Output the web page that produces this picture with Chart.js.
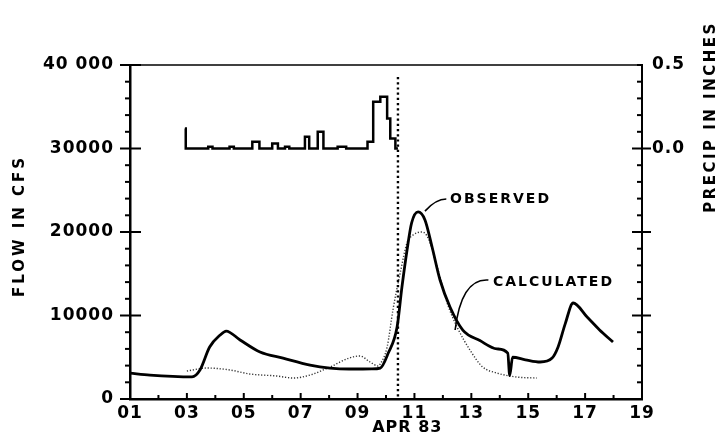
<!DOCTYPE html>
<html lang="en">
<head>
  <meta charset="UTF-8">
  <title>Flow hydrograph - APR 83</title>
  <script src="https://cdn.jsdelivr.net/npm/chart.js"></script>
  <style>
    body { margin: 0; background: #fff; }
    canvas { display: block; }
  </style>
</head>
<body>
  <canvas id="chart" width="720" height="437"></canvas>

  <script>
    // day of month (April 1983) / flow in cfs
    const observedDays = [1.0, 1.7, 2.5, 3.18, 3.46, 3.8, 4.17, 4.38, 4.87, 5.57, 6.38, 7.33, 8.03, 8.7, 9.5, 9.8,
      10.08, 10.39, 10.56, 10.74, 10.9, 11.13, 11.37, 11.62, 11.9, 12.25, 12.7, 13.3, 13.9, 14.28, 14.35, 14.45,
      14.9, 15.42, 15.84, 16.05, 16.3, 16.58, 17.07, 17.5, 17.98];
    const observedFlow = [3100, 2870, 2700, 2640, 3470, 6230, 7660, 8140, 7070, 5630, 4900, 4070, 3710, 3590, 3600, 3700,
      5500, 8620, 13400, 17850, 21080, 22400, 21440, 18200, 14250, 11020, 8260, 7000, 6000, 5500, 2800, 5000,
      4700, 4430, 4900, 6230, 9000, 11500, 9820, 8300, 6830];

    const calculatedDays = [3.0, 3.7, 4.52, 5.2, 6.17, 6.73, 7.33, 8.03, 8.7, 9.08, 9.44, 9.72, 9.8, 10.04, 10.25,
      10.5, 10.74, 10.95, 11.27, 11.48, 11.8, 12.15, 12.5, 12.95, 13.4, 13.9, 14.6, 15.3];
    const calculatedFlow = [3350, 3710, 3470, 3000, 2750, 2510, 2870, 3830, 4900, 5150, 4430, 3950, 4200, 6230, 10800,
      15100, 18700, 19640, 20000, 19280, 15800, 11500, 8620, 5870, 3830, 3110, 2630, 2510];

    // precipitation, inches; each value holds until the next day entry
    const precipDays = [2.93, 2.96, 3.75, 3.9, 4.5, 4.65, 5.3, 5.55, 6.0, 6.2, 6.45, 6.6, 7.15, 7.3, 7.6, 7.8,
      8.3, 8.6, 9.35, 9.55, 9.8, 10.04, 10.15, 10.33, 10.42];
    const precipInches = [0.12, 0, 0.01, 0, 0.01, 0, 0.04, 0, 0.03, 0, 0.01, 0, 0.07, 0, 0.1, 0,
      0.01, 0, 0.04, 0.28, 0.31, 0.18, 0.06, 0, 0];

    const forecastDay = 10.42;

    const dayTicks = [1, 2, 3, 4, 5, 6, 7, 8, 9, 10, 11, 12, 13, 14, 15, 16, 17, 18, 19];
    const flowTicks = [0, 10000, 20000, 30000, 40000];
    const flowTickLabels = ['0', '10000', '20000', '30000', '40 000'];
    const precipTicks = [0, 0.5];

    // curve labels: text start (day, flow) and leader from curve
    const curveLabels = [
      { text: 'OBSERVED', day: 12.25, flow: 23950, from: [11.37, 22500], ctrl: [11.75, 23950], to: [12.12, 23950] },
      { text: 'CALCULATED', day: 13.76, flow: 14000, from: [12.43, 8260], ctrl: [12.65, 14500], to: [13.6, 14250] }
    ];

    const font = 'DejaVu Sans';

    const toPoints = (xs, ys) => xs.map((x, i) => ({ x: x, y: ys[i] }));

    const extras = {
      id: 'extras',
      beforeDraw(chart) {
        chart.ctx.letterSpacing = '1px';
      },
      afterDraw(chart) {
        const ctx = chart.ctx;
        const x = chart.scales.x, y = chart.scales.y, y2 = chart.scales.y2;
        const top = y.getPixelForValue(40000), bottom = y.getPixelForValue(0);
        ctx.save();
        ctx.strokeStyle = '#000';
        ctx.fillStyle = '#000';

        // frame top
        ctx.lineWidth = 1.6;
        ctx.beginPath();
        ctx.moveTo(x.left, top);
        ctx.lineTo(x.right, top);
        ctx.stroke();

        // left ticks: crosses every 10000, small outside every 2000
        ctx.lineWidth = 2;
        for (let v = 0; v <= 40000; v += 2000) {
          const py = y.getPixelForValue(v);
          ctx.beginPath();
          if (v % 10000 === 0) { ctx.moveTo(x.left - 10, py); ctx.lineTo(x.left + 11, py); }
          else { ctx.moveTo(x.left - 5, py); ctx.lineTo(x.left, py); }
          ctx.stroke();
        }
        // right ticks
        for (let v = -1.5; v <= 0.501; v += 0.1) {
          const py = y2.getPixelForValue(v);
          const major = Math.abs(v * 2 - Math.round(v * 2)) < 0.01;
          ctx.beginPath();
          if (major && v < 0.49 && v > -1.49) { ctx.moveTo(x.right - 10, py); ctx.lineTo(x.right + 9, py); }
          else { ctx.moveTo(x.right - 5, py); ctx.lineTo(x.right, py); }
          ctx.stroke();
        }
        // day ticks, pointing up
        dayTicks.forEach(d => {
          const px = x.getPixelForValue(d);
          ctx.beginPath();
          ctx.moveTo(px, bottom);
          ctx.lineTo(px, bottom - (d % 2 ? 6 : 4));
          ctx.stroke();
        });

        // forecast time marker
        const fx = x.getPixelForValue(forecastDay);
        ctx.lineWidth = 2.4;
        ctx.setLineDash([2.2, 3]);
        ctx.beginPath();
        ctx.moveTo(fx, top + 12);
        ctx.lineTo(fx, bottom);
        ctx.stroke();
        ctx.setLineDash([]);

        // curve labels
        ctx.lineWidth = 1.6;
        ctx.font = 'bold 14px "' + font + '"';
        ctx.letterSpacing = '2px';
        ctx.textBaseline = 'middle';
        ctx.textAlign = 'left';
        curveLabels.forEach(l => {
          ctx.beginPath();
          ctx.moveTo(x.getPixelForValue(l.from[0]), y.getPixelForValue(l.from[1]));
          ctx.quadraticCurveTo(x.getPixelForValue(l.ctrl[0]), y.getPixelForValue(l.ctrl[1]),
            x.getPixelForValue(l.to[0]), y.getPixelForValue(l.to[1]));
          ctx.stroke();
          ctx.fillText(l.text, x.getPixelForValue(l.day), y.getPixelForValue(l.flow));
        });

        // axis titles
        ctx.font = 'bold 15px "' + font + '"';
        ctx.letterSpacing = '3px';
        ctx.textAlign = 'center';
        ctx.save();
        ctx.translate(20, 226);
        ctx.rotate(-Math.PI / 2);
        ctx.fillText('FLOW IN CFS', 0, 0);
        ctx.restore();

        ctx.letterSpacing = '2.5px';
        ctx.save();
        ctx.translate(711, 117);
        ctx.rotate(-Math.PI / 2);
        ctx.fillText('PRECIP IN INCHES', 0, 0);
        ctx.restore();

        ctx.font = 'bold 16px "' + font + '"';
        ctx.letterSpacing = '1px';
        ctx.fillText('APR 83', x.getPixelForValue(10.75), 428);
        ctx.restore();
      }
    };

    const tickFont = { family: font, weight: 'bold', size: 17 };

    new Chart(document.getElementById('chart'), {
      type: 'line',
      data: {
        datasets: [
          {
            label: 'OBSERVED',
            data: toPoints(observedDays, observedFlow),
            borderColor: '#000',
            borderWidth: 2.8,
            pointRadius: 0,
            cubicInterpolationMode: 'monotone',
            yAxisID: 'y'
          },
          {
            label: 'CALCULATED',
            data: toPoints(calculatedDays, calculatedFlow),
            borderColor: '#333',
            borderWidth: 1.4,
            borderDash: [1.2, 1.8],
            pointRadius: 0,
            cubicInterpolationMode: 'monotone',
            yAxisID: 'y'
          },
          {
            label: 'PRECIP',
            data: toPoints(precipDays, precipInches),
            borderColor: '#000',
            borderWidth: 2.5,
            pointRadius: 0,
            stepped: true,
            yAxisID: 'y2'
          }
        ]
      },
      options: {
        responsive: false,
        devicePixelRatio: 1,
        animation: false,
        layout: { padding: { top: 65, left: 0, right: 0, bottom: 0 } },
        plugins: { legend: { display: false }, tooltip: { enabled: false } },
        scales: {
          x: {
            type: 'linear',
            min: 1,
            max: 19,
            afterFit: s => { s.height = 38; },
            afterBuildTicks: s => { s.ticks = dayTicks.map(v => ({ value: v })); },
            grid: { display: false, drawTicks: false },
            border: { display: true, color: '#000', width: 2.5 },
            ticks: {
              autoSkip: false,
              maxRotation: 0,
              padding: 4,
              color: '#000',
              font: tickFont,
              callback: v => (v % 2 === 1 ? String(v).padStart(2, '0') : '')
            }
          },
          y: {
            position: 'left',
            min: 0,
            max: 40000,
            afterFit: s => { s.width = 130; },
            afterBuildTicks: s => { s.ticks = flowTicks.map(v => ({ value: v })); },
            grid: { display: false, drawTicks: false },
            border: { display: true, color: '#000', width: 2.5 },
            ticks: {
              padding: 16,
              color: '#000',
              font: tickFont,
              callback: v => flowTickLabels[flowTicks.indexOf(v)]
            }
          },
          y2: {
            position: 'right',
            min: -1.5,
            max: 0.5,
            afterFit: s => { s.width = 78; },
            afterBuildTicks: s => { s.ticks = precipTicks.map(v => ({ value: v })); },
            grid: { display: false, drawTicks: false },
            border: { display: true, color: '#000', width: 2 },
            ticks: {
              padding: 10,
              color: '#000',
              font: tickFont,
              callback: v => v.toFixed(1)
            }
          }
        }
      },
      plugins: [extras]
    });
  </script>
</body>
</html>
